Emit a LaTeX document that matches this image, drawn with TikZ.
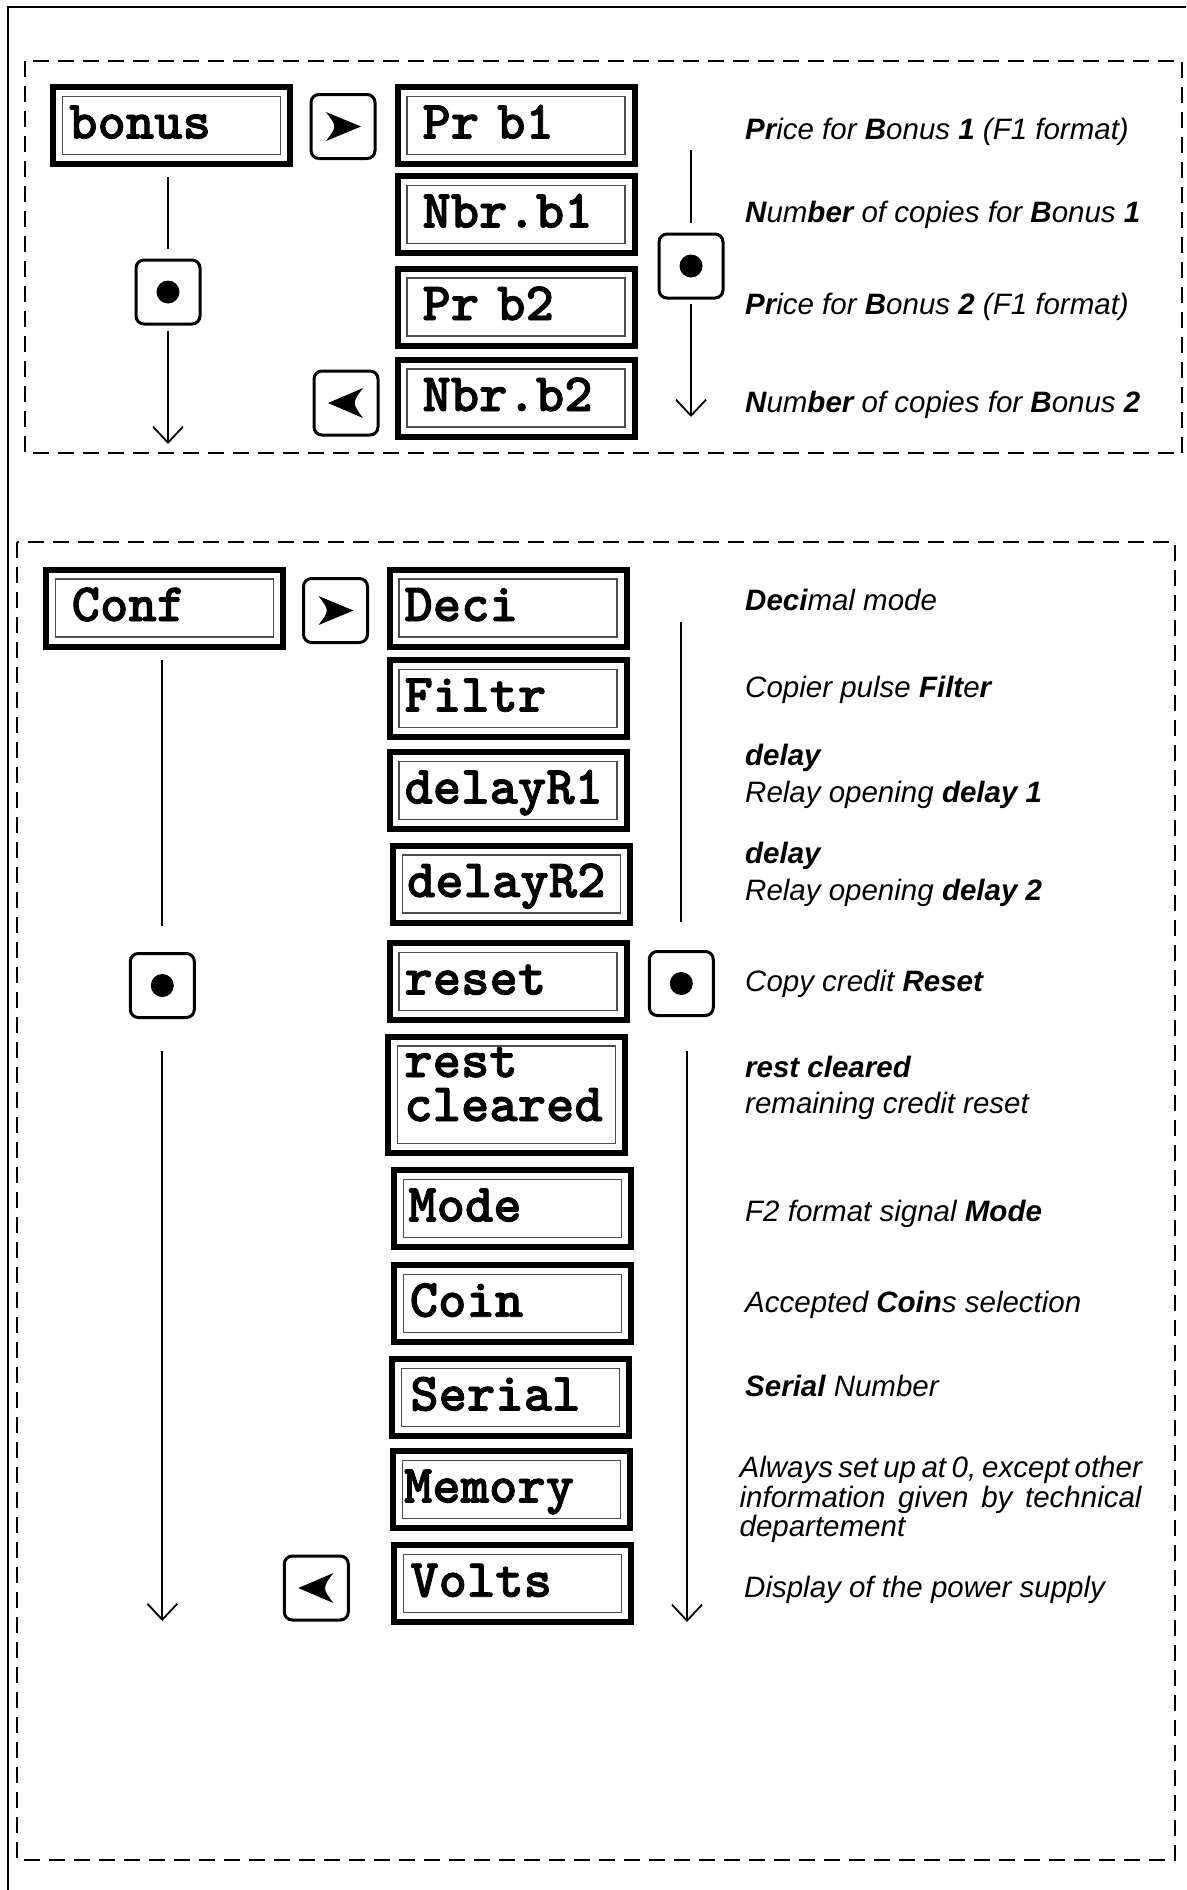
\documentclass[tikz,border=0pt]{standalone}
\usepackage{fontspec}
\setmainfont{Liberation Sans}
\newfontfamily\lcdfont{lmmonolt10-bold.otf}[FakeBold=1.6]
\usetikzlibrary{arrows.meta}
\newcommand\bi[1]{{\bfseries #1}}
\newcommand\rglyph[1]{\fill[shift={(#1.center)}] (18,0) -- (-17,-14.5) .. controls (-6,0) .. (-17,14.5) -- cycle;}
\newcommand\lglyph[1]{\fill[shift={(#1.center)}] (-18,0) -- (17,-15) .. controls (6,0) .. (17,15) -- cycle;}
\newcommand\dotglyph[1]{\fill (#1.center) circle[radius=11.5];}
\begin{document}
\begin{tikzpicture}[x=1pt,y=-1pt,
  lcd/.style={draw, line width=6pt, minimum width=237pt, minimum height=77pt,
    inner ysep=0pt, align=left, text height=26pt, text depth=0pt,
    font=\lcdfont\fontsize{54}{54}\selectfont,
    path picture={\draw[line width=1.3pt, black!70]
      ([xshift=9.5pt,yshift=-9.5pt]path picture bounding box.north west) rectangle
      ([xshift=-9.5pt,yshift=9.5pt]path picture bounding box.south east);}},
  btn/.style={draw, line width=3pt, rounded corners=8pt, minimum width=64pt, minimum height=64pt, inner sep=0pt},
  conn/.style={line width=1.8pt},
  arr/.style={-{Straight Barb[length=16pt,width=30pt]}},
  dashbox/.style={line width=2pt, dash pattern=on 16pt off 9pt},
  desc/.style={anchor=base west, inner sep=0pt, font=\fontsize{29.5}{34}\selectfont\itshape}
]
\useasboundingbox (0,0) rectangle (1186,1890);

% outer frame
\draw[line width=2.2pt] (1186,7) -- (8,7) -- (8,1890);
% dashed boxes
\draw[dashbox] (24.5,61) rectangle (1182,453);
\draw[dashbox] (16.6,542) rectangle (1175,1860);

% ---------- top section ----------
\node[lcd, inner xsep=16pt, text width=205pt] (bonus) at (171.7,125.5) {bonus};
\node[lcd, inner xsep=25pt, text width=187pt] (prb1) at (516,125.5) {Pr b1};
\node[lcd, inner xsep=25pt, text width=187pt] (nbrb1) at (516,214.5) {Nbr.b1};
\node[lcd, inner xsep=25pt, text width=187pt] (prb2) at (516,307) {Pr b2};
\node[lcd, inner xsep=25pt, text width=187pt] (nbrb2) at (516,398) {Nbr.b2};

\node[btn] (rbT) at (343,126.5) {};
\rglyph{rbT}
\node[btn] (lbT) at (346,403) {};
\lglyph{lbT}
\node[btn] (dotTL) at (168,292) {};
\dotglyph{dotTL}
\node[btn] (dotTR) at (691,266) {};
\dotglyph{dotTR}

\draw[conn, shorten <=10pt, shorten >=10pt] (bonus.south -| dotTL.center) -- (dotTL.north);
\coordinate (endTL) at (168,444);
\draw[conn, arr, shorten <=5pt] (dotTL.south) -- (endTL);
\coordinate (startTR) at (691,150);
\draw[conn, shorten >=10pt] (startTR) -- (dotTR.north);
\coordinate (endTR) at (691,417);
\draw[conn, arr, shorten <=4pt] (dotTR.south) -- (endTR);

\node[desc] (d1) at (745,139) {\bi{Pr}ice for \bi{B}onus \bi{1} (F1 format)};
\node[desc] (d2) at (745,222) {\bi{N}um\bi{ber} of copies for \bi{B}onus \bi{1}};
\node[desc] (d3) at (745,314) {\bi{Pr}ice for \bi{B}onus \bi{2} (F1 format)};
\node[desc] (d4) at (745,412) {\bi{N}um\bi{ber} of copies for \bi{B}onus \bi{2}};

% ---------- bottom section ----------
\node[lcd, inner xsep=26pt, text width=185pt] (conf) at (164.2,608) {Conf};
\node[lcd, inner xsep=15pt, text width=207pt] (deci) at (508,608) {Deci};
\node[lcd, inner xsep=15pt, text width=207pt] (filtr) at (508,698.5) {Filtr};
\node[lcd, inner xsep=15pt, text width=207pt] (dr1) at (508,790.5) {delayR1};
\node[lcd, inner xsep=14pt, text width=209pt] (dr2) at (511.5,884) {delayR2};
\node[lcd, inner xsep=15pt, text width=207pt] (reset) at (508,981.5) {reset};
\node[lcd, inner xsep=16pt, text width=205pt, minimum height=116.5pt, text height=0pt, text depth=35.5pt] (rest) at (506.8,1094.75)
  {\rlap{rest}\raisebox{-44pt}[0pt][0pt]{cleared}};
\node[lcd, inner xsep=14.5pt, text width=208pt] (mode) at (512.3,1208.5) {Mode};
\node[lcd, inner xsep=16pt, text width=205pt] (coin) at (512.3,1303.7) {Coin};
\node[lcd, inner xsep=18pt, text width=201pt] (serial) at (510.8,1397.5) {Serial};
\node[lcd, inner xsep=11pt, text width=215pt] (memory) at (511.5,1489.5) {Memory};
\node[lcd, inner xsep=16.5pt, text width=204pt] (volts) at (512.3,1583.7) {Volts};

\node[btn] (rbB) at (335.5,610.5) {};
\rglyph{rbB}
\node[btn] (lbB) at (316.3,1588) {};
\lglyph{lbB}
\node[btn] (dotBL) at (162.3,985.5) {};
\dotglyph{dotBL}
\node[btn] (dotBR) at (681.3,983.5) {};
\dotglyph{dotBR}

\draw[conn, shorten <=10pt, shorten >=26pt] (conf.south -| dotBL.center) -- (dotBL.north);
\coordinate (endBL) at (162.3,1621);
\draw[conn, arr, shorten <=32pt] (dotBL.south) -- (endBL);
\coordinate (startBR) at (681.3,622);
\draw[conn, shorten >=28pt] (startBR) -- (dotBR.north);
\coordinate (endBR) at (687,1622);
\draw[conn, arr, shorten <=34pt] ([xshift=5.7pt]dotBR.south) -- (endBR);

\node[desc] (e1) at (745,610) {\bi{Deci}mal mode};
\node[desc] (e2) at (745,697) {Copier pulse \bi{Filt}e\bi{r}};
\node[desc] (e3a) at (745,765) {\bi{delay}};
\node[desc] (e3b) at (745,802) {Relay opening \bi{delay 1}};
\node[desc] (e4a) at (745,863) {\bi{delay}};
\node[desc] (e4b) at (745,900) {Relay opening \bi{delay 2}};
\node[desc] (e5) at (745,991) {Copy credit \bi{Reset}};
\node[desc] (e6a) at (745,1077.5) {\bi{rest cleared}};
\node[desc] (e6b) at (745,1113.5) {remaining credit reset};
\node[desc] (e7) at (745,1221.6) {F2 format signal \bi{Mode}};
\node[desc] (e8) at (745,1312) {Accepted \bi{Coin}s selection};
\node[desc] (e9) at (745,1396) {\bi{Serial} Number};
\node[desc] (e10a) at (739.4,1477) {\makebox[402pt][s]{Always set up at 0, except other}};
\node[desc] (e10b) at (739.4,1507) {\makebox[402pt][s]{information given by technical}};
\node[desc] (e10c) at (739.4,1536) {departement};
\node[desc] (e11) at (744,1597) {Display of the power supply};
\end{tikzpicture}
\end{document}
